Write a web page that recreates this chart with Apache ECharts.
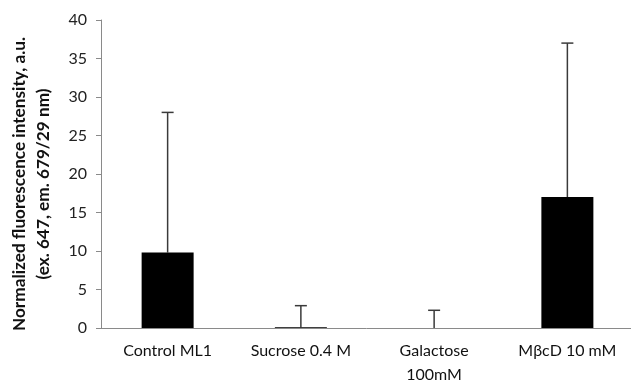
<!DOCTYPE html>
<html><head><meta charset="utf-8">
<script src="https://cdn.jsdelivr.net/npm/echarts@6/dist/echarts.min.js"></script>
<style>html,body{margin:0;padding:0;background:#fff}#c{width:631px;height:383px}</style>
</head><body><div id="c"></div>
<script>
var categories = ['Control ML1', 'Sucrose 0.4 M', 'Galactose\n100mM', 'MβcD 10 mM'];
var means = [9.8, 0.1, 0, 17];
var errorTops = [28, 2.9, 2.3, 37];
var yTicks = [0, 5, 10, 15, 20, 25, 30, 35, 40];

var chart = echarts.init(document.getElementById('c'));
var font = 'Lato, "Open Sans", sans-serif';
chart.setOption({
  animation: false,
  grid: { left: 101, top: 20, width: 533, height: 308, outerBoundsMode: 'none', containLabel: false },
  xAxis: {
    type: 'category', data: categories,
    axisLine: { lineStyle: { color: '#8a8a8a', width: 1 } },
    axisTick: { length: 5, lineStyle: { color: '#8a8a8a' } },
    axisLabel: { color: '#111', fontSize: 16, fontFamily: font, margin: 11, lineHeight: 24 }
  },
  yAxis: {
    type: 'value', min: 0, max: 40, interval: 5,
    name: 'Normalized fluorescence intensity, a.u.\n(ex. 647, em. 679/29 nm)',
    nameLocation: 'middle', nameGap: 46, nameRotate: 90,
    nameTextStyle: { fontSize: 17.2, fontWeight: 'bold', fontFamily: font, color: '#111', lineHeight: 24, padding: [0, 20, 0, 0] },
    axisLine: { show: true, lineStyle: { color: '#8a8a8a' } },
    axisTick: { show: true, length: 5, lineStyle: { color: '#8a8a8a' } },
    splitLine: { show: false },
    axisLabel: { color: '#222', fontSize: 16, fontFamily: font, margin: 14,
      formatter: function (v) { return yTicks.indexOf(v) >= 0 ? String(v) : ''; } }
  },
  series: [
    { type: 'bar', data: means, barWidth: 52, itemStyle: { color: '#000' }, z: 2 },
    {
      type: 'custom', z: 1,
      data: errorTops.map(function (t, i) { return [i, means[i], t]; }),
      renderItem: function (params, api) {
        var base = api.coord([api.value(0), api.value(1)]);
        var top = api.coord([api.value(0), api.value(2)]);
        var x = base[0], hw = 6;
        var st = { stroke: '#3a3a3a', lineWidth: 1.5 };
        return { type: 'group', children: [
          { type: 'line', shape: { x1: x, y1: base[1], x2: x, y2: top[1] }, style: st },
          { type: 'line', shape: { x1: x - hw, y1: top[1], x2: x + hw, y2: top[1] }, style: st }
        ] };
      }
    }
  ]
});
</script></body></html>
